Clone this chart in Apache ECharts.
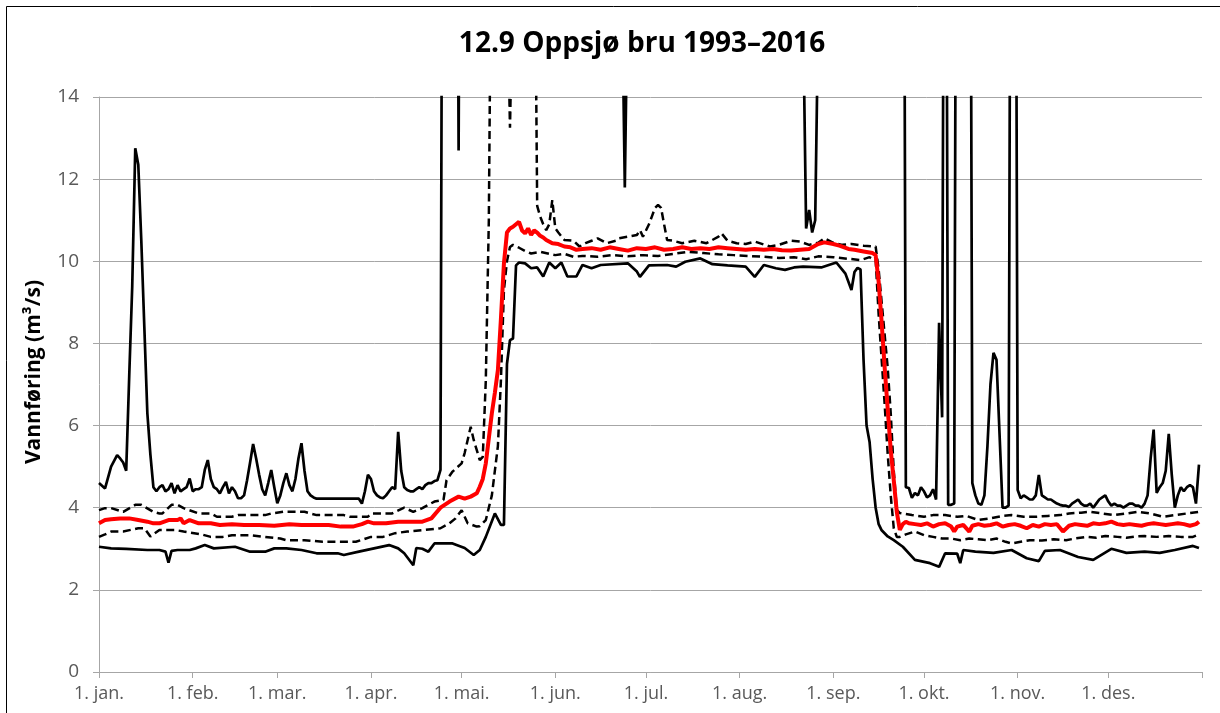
<!DOCTYPE html>
<html><head><meta charset="utf-8">
<script src="https://cdn.jsdelivr.net/npm/echarts@6/dist/echarts.min.js"></script>
<style>html,body{margin:0;padding:0;background:#fff}#c{width:1220px;height:713px}</style>
</head><body><div id="c"></div>
<script>
const chartTitle = '12.9 Oppsjø bru 1993–2016';
const yAxisName = 'Vannføring (m³/s)';
const monthStarts = [0,31,59,90,120,151,181,212,243,273,304,334,365];
const monthLabels = ['1. jan.','1. feb.','1. mar.','1. apr.','1. mai.','1. jun.','1. jul.','1. aug.','1. sep.','1. okt.','1. nov.','1. des.'];

// Maximum (values above 14 run off the top of the chart)
const maxDays = [0,2,4,6,7,8,9,10,11,12,13,14,15,16,17,18,19,20,21,22,23,24,25,26,27,28,29,30,31,32,33,34,35,36,37,38,39,40,41,42,43,44,45,46,47,48,49,50,51,52,53,54,55,56,57,58,59,60,61,62,63,64,65,66,67,68,69,70,71,72,86,87,88,89,90,91,92,93,94,95,96,97,98,99,100,101,102,103,104,105,106,107,108,109,110,111,112,113,114,118,119,120,172,173,174,175,176,232,233,234,235,236,237,238,239,266,267,268,269,270,271,272,273,274,275,276,277,278,279,280,281,282,283,284,288,289,290,291,292,293,294,295,296,297,298,299,300,301,302,303,304,305,306,307,308,309,310,311,312,313,314,315,316,317,318,319,320,321,322,323,324,325,326,327,328,329,330,331,332,333,334,335,336,337,338,339,340,341,342,343,344,345,346,347,348,349,350,351,352,353,354,355,356,357,358,359,360,361,362,363,364];
const maxVals = [4.6,4.47,5.0,5.28,5.2,5.1,4.9,7.2,9.4,12.75,12.35,10.5,8.4,6.3,5.3,4.5,4.4,4.5,4.55,4.4,4.45,4.6,4.35,4.55,4.4,4.45,4.5,4.71,4.4,4.45,4.45,4.5,4.92,5.16,4.7,4.5,4.45,4.35,4.5,4.63,4.35,4.5,4.4,4.23,4.23,4.3,4.67,5.1,5.55,5.2,4.8,4.45,4.3,4.6,4.92,4.5,4.11,4.3,4.6,4.84,4.55,4.4,4.7,5.2,5.57,4.9,4.4,4.3,4.25,4.22,4.22,4.1,4.4,4.8,4.7,4.4,4.3,4.25,4.23,4.3,4.4,4.5,4.45,5.85,4.9,4.5,4.43,4.4,4.4,4.45,4.5,4.45,4.55,4.6,4.6,4.65,4.67,4.92,30,30,12.7,30,30,17,11.8,17,30,30,16,10.8,11.25,10.7,11.0,16,30,30,4.5,4.48,4.24,4.36,4.3,4.5,4.4,4.25,4.3,4.45,4.2,8.5,6.2,30,4.07,4.07,4.1,30,30,4.6,4.3,4.1,4.07,4.3,5.5,7.0,7.77,7.6,5.8,4.0,4.0,4.05,30,30,4.43,4.23,4.3,4.25,4.2,4.2,4.3,4.8,4.3,4.25,4.2,4.2,4.15,4.1,4.07,4.05,4.05,4.02,4.1,4.15,4.2,4.1,4.05,4.05,4.1,4.0,4.1,4.2,4.25,4.3,4.15,4.05,4.1,4.05,4.05,4.0,4.05,4.1,4.1,4.05,4.05,4.0,4.1,4.3,5.2,5.9,4.36,4.5,4.6,4.9,5.8,4.8,4.0,4.3,4.5,4.4,4.5,4.55,4.5,4.1,5.05];

// Upper dashed percentile
const upDays = [0,2,4,8,12,14,18,20,21,24,26,28,33,37,39,44,46,55,57,61,68,72,81,83,89,90,97,98,101,104,107,111,114,115,117,120,121,123,124,126,127,128,129,130,135,136,137,144,145,146,147,148,149,150,151,152,154,157,159,161,163,165,168,171,172,175,178,179,180,182,183,184,185,186,187,188,190,193,197,201,205,206,208,211,214,217,222,225,229,232,235,238,240,243,246,249,253,257,258,259,260,261,262,263,264,265,269,273,276,280,284,287,291,295,299,302,306,310,314,318,321,325,328,332,336,340,344,348,352,356,360,364];
const upVals = [3.94,3.99,3.99,3.9,4.07,4.07,3.9,3.86,3.86,4.07,4.07,3.99,3.86,3.86,3.78,3.78,3.82,3.82,3.86,3.9,3.9,3.82,3.82,3.78,3.78,3.86,3.86,3.9,4.0,3.9,3.99,4.15,4.19,4.67,4.88,5.08,5.33,5.97,5.65,5.16,5.24,7.1,11,20,17,13.25,17,20,11.35,11.09,10.9,10.76,10.9,11.49,10.8,10.7,10.52,10.5,10.36,10.44,10.5,10.56,10.44,10.5,10.56,10.6,10.64,10.76,10.6,10.9,11.1,11.3,11.37,11.3,10.9,10.52,10.5,10.44,10.5,10.44,10.6,10.68,10.5,10.44,10.42,10.48,10.36,10.4,10.5,10.48,10.4,10.45,10.56,10.45,10.4,10.42,10.38,10.36,9.8,9.0,8.2,7.4,6.3,4.9,3.95,3.87,3.82,3.78,3.82,3.82,3.78,3.8,3.7,3.74,3.8,3.82,3.78,3.78,3.8,3.82,3.86,3.88,3.9,3.86,3.82,3.86,3.9,3.86,3.78,3.82,3.86,3.9];

// Median
const medDays = [0,2,4,7,10,13,16,18,20,23,26,27,28,30,33,37,40,44,48,53,58,63,67,72,76,80,84,87,89,91,95,99,103,107,110,113,116,119,121,123,125,126,127,128,130,131,132,133,134,135,136,137,138,139,140,141,142,143,144,145,146,147,148,150,152,154,156,158,160,163,166,169,172,175,178,181,184,187,190,193,196,199,202,205,208,211,214,217,220,223,226,229,232,235,238,240,243,245,248,250,253,256,257,258,259,260,261,262,263,264,265,266,267,268,270,272,274,276,278,280,282,283,284,286,288,289,291,293,295,297,299,301,303,305,307,309,311,313,315,317,319,321,323,325,327,329,331,333,335,337,339,341,343,345,347,349,351,353,355,357,359,361,363,364];
const medVals = [3.62,3.7,3.72,3.74,3.74,3.7,3.66,3.62,3.62,3.7,3.7,3.74,3.62,3.7,3.62,3.62,3.58,3.6,3.58,3.58,3.56,3.6,3.58,3.58,3.58,3.54,3.54,3.6,3.66,3.62,3.62,3.66,3.66,3.66,3.74,4.0,4.15,4.27,4.22,4.27,4.35,4.51,4.7,5.08,6.3,6.8,7.35,8.6,9.95,10.7,10.8,10.84,10.9,10.96,10.75,10.68,10.8,10.64,10.75,10.7,10.62,10.58,10.52,10.44,10.42,10.36,10.34,10.28,10.3,10.32,10.28,10.34,10.3,10.26,10.32,10.3,10.34,10.28,10.3,10.34,10.3,10.32,10.3,10.34,10.32,10.3,10.28,10.3,10.28,10.3,10.27,10.26,10.28,10.3,10.42,10.46,10.42,10.38,10.3,10.28,10.24,10.2,10.15,9.5,8.5,7.4,6.4,5.4,4.67,3.9,3.46,3.6,3.66,3.62,3.6,3.58,3.62,3.54,3.6,3.62,3.54,3.42,3.54,3.58,3.42,3.56,3.6,3.56,3.58,3.62,3.54,3.58,3.6,3.56,3.5,3.58,3.54,3.6,3.58,3.6,3.42,3.56,3.6,3.58,3.56,3.62,3.6,3.62,3.66,3.6,3.58,3.6,3.58,3.56,3.6,3.62,3.6,3.58,3.6,3.62,3.6,3.56,3.6,3.66];

// Lower dashed percentile
const loDays = [0,2,4,8,13,15,17,20,25,28,34,37,41,44,50,55,60,62,68,74,85,90,94,98,102,108,113,116,118,120,122,125,126,128,130,132,133,134,135,136,137,139,141,143,146,149,151,154,157,160,165,170,175,180,185,190,195,200,205,210,215,220,225,230,234,238,243,248,252,255,256,257,258,259,260,261,262,263,264,265,267,270,273,276,279,282,285,288,291,294,297,300,302,305,308,312,316,320,323,327,330,333,337,340,343,346,350,354,358,362,364];
const loVals = [3.29,3.35,3.42,3.42,3.5,3.5,3.3,3.46,3.46,3.42,3.35,3.29,3.29,3.33,3.33,3.29,3.25,3.21,3.21,3.17,3.17,3.29,3.29,3.38,3.42,3.46,3.5,3.62,3.74,3.94,3.62,3.54,3.55,3.7,4.3,5.5,7.1,9.3,10.0,10.35,10.4,10.33,10.25,10.19,10.23,10.18,10.15,10.18,10.11,10.13,10.11,10.15,10.12,10.15,10.13,10.18,10.23,10.2,10.17,10.15,10.13,10.11,10.08,10.1,10.05,10.12,10.1,10.06,10.03,10.1,10.05,10.05,8.7,7.6,6.5,5.3,4.3,3.5,3.29,3.29,3.35,3.42,3.33,3.29,3.25,3.25,3.21,3.25,3.23,3.21,3.25,3.17,3.13,3.17,3.21,3.2,3.23,3.21,3.25,3.29,3.27,3.31,3.29,3.27,3.3,3.31,3.29,3.31,3.29,3.29,3.35];

// Minimum
const minDays = [0,4,9,16,20,22,23,24,26,30,32,35,38,45,50,55,58,62,67,72,79,81,86,91,96,99,101,104,105,107,109,111,117,121,124,126,128,131,133,134,135,136,137,138,139,141,143,145,147,149,151,153,155,158,160,163,166,175,178,179,182,188,191,194,199,203,208,214,217,220,224,227,230,233,239,244,246,247,249,250,251,252,253,254,255,256,257,258,259,261,263,266,270,275,278,280,284,285,286,290,296,302,307,311,313,318,324,329,335,340,346,351,356,362,364];
const minVals = [3.05,3.01,3.0,2.97,2.97,2.93,2.66,2.95,2.97,2.97,3.01,3.09,3.01,3.05,2.93,2.93,3.01,3.01,2.97,2.89,2.89,2.85,2.93,3.01,3.09,3.01,2.89,2.6,3.02,3.0,2.93,3.13,3.13,3.02,2.85,2.97,3.29,3.86,3.58,3.58,7.5,8.08,8.12,9.9,9.97,9.95,9.83,9.85,9.63,9.97,9.83,9.97,9.63,9.63,9.91,9.83,9.91,9.95,9.75,9.62,9.9,9.91,9.87,9.99,10.07,9.93,9.9,9.87,9.62,9.91,9.83,9.79,9.85,9.87,9.85,9.97,9.79,9.7,9.3,9.74,9.84,9.8,7.6,6.0,5.6,4.7,4.0,3.6,3.45,3.3,3.21,3.05,2.73,2.65,2.56,2.89,2.88,2.65,2.97,2.93,2.9,2.97,2.77,2.7,2.95,2.97,2.8,2.73,3.0,2.9,2.93,2.9,2.97,3.07,3.02];

const pairs = (d, v) => d.map((x, i) => [x, v[i]]);
const FONT = 'Open Sans';
const GRID = '#a6a6a6';
const LABEL = '#595959';

const chart = echarts.init(document.getElementById('c'), null, {renderer: 'canvas'});
const solid = (name, d, v) => ({name, type: 'line', data: pairs(d, v), showSymbol: false, symbol: 'none', clip: true,
  lineStyle: {color: '#000', width: 2.7}, z: 3});
const dashed = (name, d, v) => ({name, type: 'line', data: pairs(d, v), showSymbol: false, symbol: 'none', clip: true,
  lineStyle: {color: '#000', width: 2.5, type: [8, 4.5]}, z: 4});

chart.setOption({
  animation: false,
  backgroundColor: '#fff',
  title: {text: chartTitle, left: 637, top: 25, textAlign: 'center',
    textStyle: {fontFamily: FONT, fontWeight: 'bold', fontSize: 28, color: '#000'}},
  grid: {left: 99, right: 18, top: 97, bottom: 41, containLabel: false},
  xAxis: {type: 'value', min: 0, max: 365,
    axisLine: {show: true, lineStyle: {color: GRID, width: 1}},
    axisTick: {show: true, customValues: monthStarts, length: 6, lineStyle: {color: GRID, width: 1}},
    axisLabel: {customValues: monthStarts.slice(0, 12), formatter: v => monthLabels[monthStarts.indexOf(v)],
      color: LABEL, fontFamily: FONT, fontSize: 18, margin: 13},
    splitLine: {show: false}},
  yAxis: {type: 'value', min: 0, max: 14, interval: 2,
    axisLine: {show: true, lineStyle: {color: GRID, width: 1}},
    axisTick: {show: true, length: 6, lineStyle: {color: GRID, width: 1}},
    axisLabel: {color: LABEL, fontFamily: FONT, fontSize: 19, margin: 20},
    splitLine: {show: true, lineStyle: {color: GRID, width: 1}}},
  graphic: [
    {type: 'text', x: 34, y: 372, rotation: Math.PI / 2,
      style: {text: yAxisName, fontFamily: FONT, fontWeight: 'bold', fontSize: 21, fill: '#000',
        textAlign: 'center', textVerticalAlign: 'middle'}},
    {type: 'rect', shape: {x: 6.5, y: 6.5, width: 1240, height: 740},
      style: {fill: 'none', stroke: '#000', lineWidth: 1}, silent: true}
  ],
  series: [
    solid('Maks', maxDays, maxVals),
    dashed('Øvre', upDays, upVals),
    dashed('Nedre', loDays, loVals),
    solid('Min', minDays, minVals),
    {name: 'Median', type: 'line', data: pairs(medDays, medVals), showSymbol: false, symbol: 'none', clip: true,
      lineStyle: {color: '#ff0000', width: 4}, z: 5}
  ]
});
</script></body></html>
